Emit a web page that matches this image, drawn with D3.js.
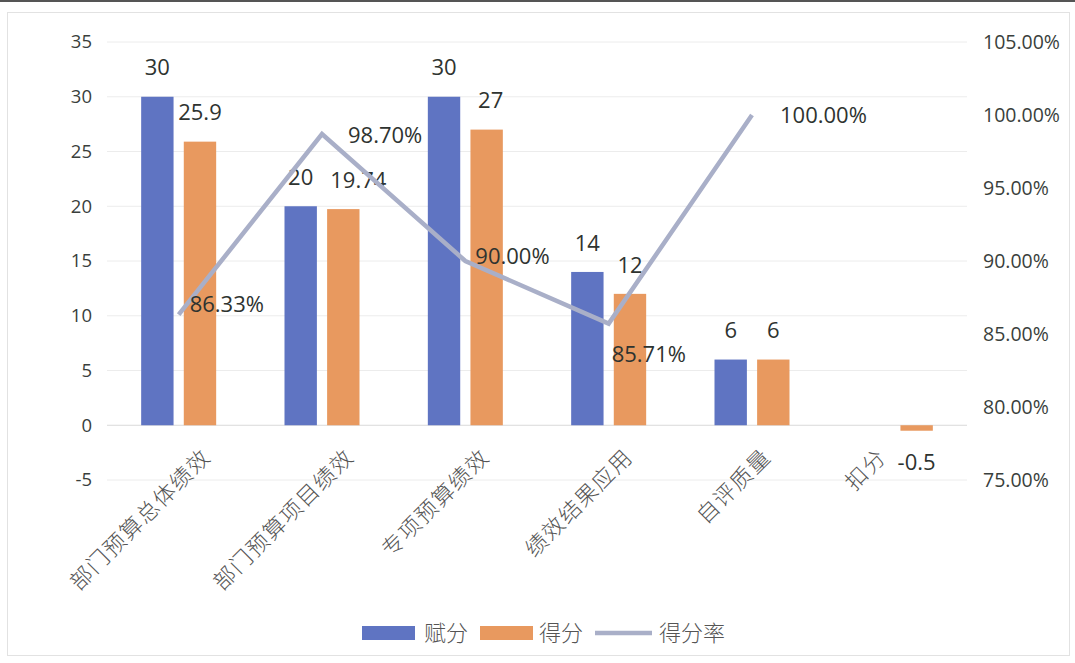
<!DOCTYPE html>
<html>
<head>
<meta charset="utf-8">
<script src="https://cdn.jsdelivr.net/npm/d3@7"></script>
<style>
  html, body { margin: 0; padding: 0; background: #fff; }
  svg { display: block; }
  .tick-l { font-family: "Open Sans", "Noto Sans", sans-serif; font-size: 18.5px; fill: #3a3f3c; }
  .tick-r { font-family: "Open Sans", "Noto Sans", sans-serif; font-size: 19.5px; fill: #3a3f3c; }
  .cat { font-family: "Noto Sans CJK SC", sans-serif; font-size: 22px; font-weight: 300; letter-spacing: 1.5px; fill: #555; }
  .val { font-family: "Open Sans", "Noto Sans", sans-serif; font-size: 22px; fill: #2e3330; }
  .legend { font-family: "Noto Sans CJK SC", sans-serif; font-size: 22px; font-weight: 300; fill: #555; }
</style>
</head>
<body>
<svg class="chart" width="1075" height="663"></svg>
<script>
// data
const categories = ["部门预算总体绩效", "部门预算项目绩效", "专项预算绩效", "绩效结果应用", "自评质量", "扣分"];
const assigned = [30, 20, 30, 14, 6, null];      // 赋分
const scored = [25.9, 19.74, 27, 12, 6, -0.5];   // 得分
const rate = [0.8633, 0.987, 0.90, 0.8571, 1.0, null]; // 得分率
const leftTicks = [-5, 0, 5, 10, 15, 20, 25, 30, 35];
const rightTicks = [0.75, 0.80, 0.85, 0.90, 0.95, 1.00, 1.05];
const seriesNames = ["赋分", "得分", "得分率"];

// layout tweaks for label placement (pixels)
const rateLabelOffset = [[11, -10], [26, 1], [10, -5], [3, 31], [28, 0]];
const scoredLabelDx = [0, 15, 4, 0, 0, 0];
const catLabelDx = [21, 21, 13, 13, 8, -20];

const colors = { assigned: "#5f74c2", scored: "#e8995f", rate: "#a9afc8" };

const svg = d3.select(".chart");
const plotLeft = 107, plotRight = 967, plotTop = 42, plotBottom = 480;

// frame
svg.append("rect")
  .attr("x", 7.5).attr("y", 12.5).attr("width", 1062).attr("height", 643)
  .attr("fill", "none").attr("stroke", "#e2e2e2");
svg.append("line")
  .attr("x1", 0).attr("x2", 1075).attr("y1", 1).attr("y2", 1)
  .attr("stroke", "#555").attr("stroke-width", 2);

const y = d3.scaleLinear().domain([-5, 35]).range([plotBottom, plotTop]);
const yR = d3.scaleLinear().domain([0.75, 1.05]).range([plotBottom, plotTop]);
const x0 = d3.scaleBand().domain(categories).range([plotLeft, plotRight]);
const x1 = d3.scaleBand().domain(["赋分", "得分"]).range([-37.5, 37.5]).paddingInner(0.24);
const cx = (c) => x0(c) + x0.bandwidth() / 2;

// gridlines
svg.append("g")
  .selectAll("line")
  .data(leftTicks)
  .join("line")
  .attr("x1", plotLeft).attr("x2", plotRight)
  .attr("y1", (d) => y(d)).attr("y2", (d) => y(d))
  .attr("stroke", (d) => (d === 0 ? "#d9d9d9" : "#ececec"))
  .attr("stroke-width", 1);

// left axis labels
svg.append("g")
  .selectAll("text")
  .data(leftTicks)
  .join("text")
  .attr("class", "tick-l")
  .attr("x", 92).attr("y", (d) => y(d))
  .attr("dy", "0.35em")
  .attr("text-anchor", "end")
  .text((d) => d);

// right axis labels
const pct = d3.format(".2%");
svg.append("g")
  .selectAll("text")
  .data(rightTicks)
  .join("text")
  .attr("class", "tick-r")
  .attr("x", 983).attr("y", (d) => yR(d))
  .attr("dy", "0.35em")
  .text((d) => pct(d));

// bars
const barData = [];
categories.forEach((c, i) => {
  if (assigned[i] != null) barData.push({ c, i, key: "赋分", v: assigned[i], color: colors.assigned });
  if (scored[i] != null) barData.push({ c, i, key: "得分", v: scored[i], color: colors.scored });
});

svg.append("g")
  .selectAll("rect")
  .data(barData)
  .join("rect")
  .attr("x", (d) => cx(d.c) + x1(d.key))
  .attr("width", x1.bandwidth())
  .attr("y", (d) => y(Math.max(0, d.v)))
  .attr("height", (d) => Math.abs(y(d.v) - y(0)))
  .attr("fill", (d) => d.color);

// bar labels
svg.append("g")
  .selectAll("text")
  .data(barData)
  .join("text")
  .attr("class", "val")
  .attr("x", (d) => cx(d.c) + x1(d.key) + x1.bandwidth() / 2 + (d.key === "得分" ? scoredLabelDx[d.i] : 0))
  .attr("y", (d) => (d.v >= 0 ? y(d.v) - 29 : y(d.v) + 32))
  .attr("dy", "0.35em")
  .attr("text-anchor", "middle")
  .text((d) => d.v);

// rate line
const rateData = categories
  .map((c, i) => ({ c, i, v: rate[i] }))
  .filter((d) => d.v != null);

svg.append("path")
  .datum(rateData)
  .attr("fill", "none")
  .attr("stroke", colors.rate)
  .attr("stroke-width", 4.5)
  .attr("stroke-linejoin", "miter")
  .attr("d", d3.line().x((d) => cx(d.c)).y((d) => yR(d.v)));

svg.append("g")
  .selectAll("text")
  .data(rateData)
  .join("text")
  .attr("class", "val")
  .attr("x", (d) => cx(d.c) + rateLabelOffset[d.i][0])
  .attr("y", (d) => yR(d.v) + rateLabelOffset[d.i][1])
  .attr("dy", "0.35em")
  .text((d) => pct(d.v));

// category labels
svg.append("g")
  .selectAll("text")
  .data(categories)
  .join("text")
  .attr("class", "cat")
  .attr("text-anchor", "end")
  .attr("transform", (d, i) => `translate(${cx(d) + catLabelDx[i]},${446}) rotate(-45)`)
  .attr("dy", "0.8em")
  .text((d) => d);

// legend
const legend = svg.append("g").attr("transform", "translate(362,633)");
const legendItems = [
  { name: seriesNames[0], x: 0, type: "rect", color: colors.assigned, tx: 62 },
  { name: seriesNames[1], x: 118, type: "rect", color: colors.scored, tx: 177 },
  { name: seriesNames[2], x: 233, type: "line", color: colors.rate, tx: 297 },
];
legendItems.forEach((it) => {
  if (it.type === "rect") {
    legend.append("rect")
      .attr("x", it.x).attr("y", -7).attr("width", 53).attr("height", 14)
      .attr("fill", it.color);
  } else {
    legend.append("line")
      .attr("x1", it.x).attr("x2", it.x + 57).attr("y1", 0).attr("y2", 0)
      .attr("stroke", it.color).attr("stroke-width", 4.5);
  }
  legend.append("text")
    .attr("class", "legend")
    .attr("x", it.tx).attr("y", 0).attr("dy", "0.35em")
    .text(it.name);
});
</script>
</body>
</html>
